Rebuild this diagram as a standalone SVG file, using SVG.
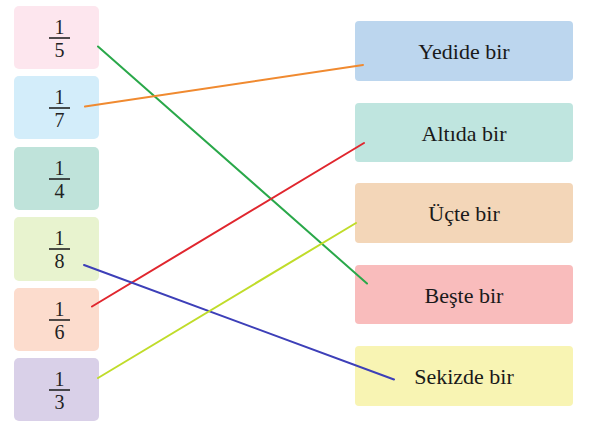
<svg xmlns="http://www.w3.org/2000/svg" width="590" height="446" viewBox="0 0 590 446">
<style>
.l{stroke:none}
.num{font-family:"Liberation Serif","Times New Roman",serif;font-size:20px;fill:#222;text-anchor:middle}
.bar{stroke:#222;stroke-width:1.6}
.lab{font-family:"Liberation Serif","Times New Roman",serif;font-size:22px;fill:#1a1a1a;text-anchor:middle}
.c{fill:none;stroke-width:2;stroke-linecap:round}
</style>
<rect width="590" height="446" fill="#ffffff"/>
<g id="f15"><rect x="14" y="6" width="85" height="63" rx="5" fill="#fde6ee"/><text class="num" x="59.5" y="34">1</text><line class="bar" x1="49" y1="38" x2="70" y2="38"/><text class="num" x="59.5" y="57">5</text></g>
<g id="f17"><rect x="14" y="76" width="85" height="63" rx="5" fill="#d3edfa"/><text class="num" x="59.5" y="104">1</text><line class="bar" x1="49" y1="108" x2="70" y2="108"/><text class="num" x="59.5" y="127">7</text></g>
<g id="f14"><rect x="14" y="147" width="85" height="63" rx="5" fill="#bfe3da"/><text class="num" x="59.5" y="175">1</text><line class="bar" x1="49" y1="179" x2="70" y2="179"/><text class="num" x="59.5" y="198">4</text></g>
<g id="f18"><rect x="14" y="217" width="85" height="64" rx="5" fill="#e8f3cf"/><text class="num" x="59.5" y="245">1</text><line class="bar" x1="49" y1="249" x2="70" y2="249"/><text class="num" x="59.5" y="268">8</text></g>
<g id="f16"><rect x="14" y="288" width="85" height="63" rx="5" fill="#fcdccd"/><text class="num" x="59.5" y="316">1</text><line class="bar" x1="49" y1="320" x2="70" y2="320"/><text class="num" x="59.5" y="339">6</text></g>
<g id="f13"><rect x="14" y="358" width="85" height="63" rx="5" fill="#d9d0e8"/><text class="num" x="59.5" y="386">1</text><line class="bar" x1="49" y1="390" x2="70" y2="390"/><text class="num" x="59.5" y="409">3</text></g>

<g id="yedide"><rect x="355" y="21" width="218" height="60" rx="4" fill="#bcd6ee"/><text class="lab" x="464" y="59">Yedide bir</text></g>
<g id="altida"><rect x="355" y="103" width="218" height="59" rx="4" fill="#bfe5df"/><text class="lab" x="464" y="141">Altıda bir</text></g>
<g id="ucte"><rect x="355" y="183" width="218" height="60" rx="4" fill="#f3d6b8"/><text class="lab" x="464" y="221">Üçte bir</text></g>
<g id="beste"><rect x="355" y="265" width="218" height="59" rx="4" fill="#f9bcbc"/><text class="lab" x="464" y="303">Beşte bir</text></g>
<g id="sekizde"><rect x="355" y="346" width="218" height="60" rx="4" fill="#f8f4b3"/><text class="lab" x="464" y="384">Sekizde bir</text></g>

<g id="connectors">
<line class="c" x1="98" y1="46.5" x2="367" y2="283.5" stroke="#2aa84a"/>
<line class="c" x1="85" y1="106.5" x2="363" y2="65" stroke="#f08a30"/>
<line class="c" x1="92" y1="306.5" x2="364" y2="143" stroke="#e0262e"/>
<line class="c" x1="84" y1="265" x2="394" y2="379.5" stroke="#3d3fb8"/>
<line class="c" x1="98" y1="378" x2="356" y2="223" stroke="#c0dc2a"/>
</g>
</svg>
